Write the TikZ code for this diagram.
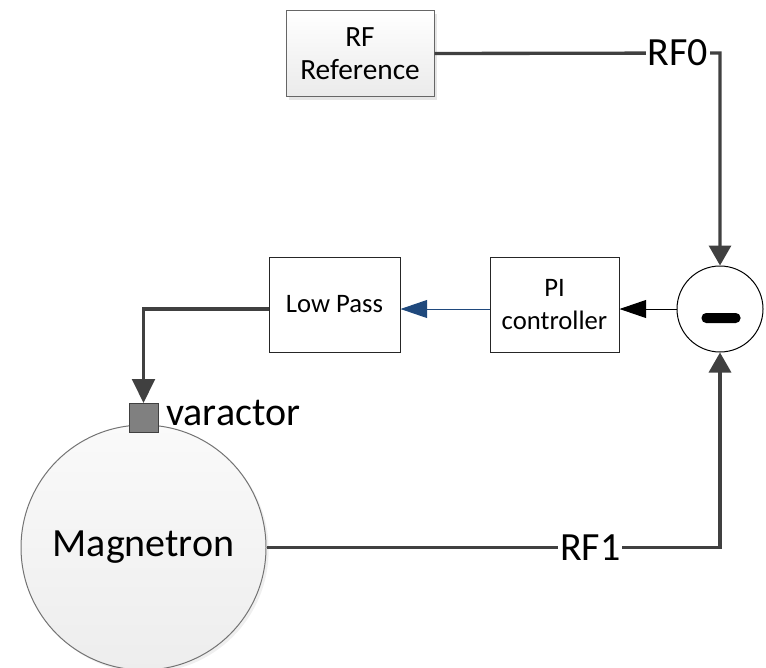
\documentclass[tikz,border=0pt]{standalone}
\usepackage{fontspec}
\setmainfont{Carlito}
\usetikzlibrary{arrows.meta,shadows}

\definecolor{wiregray}{RGB}{64,64,64}
\definecolor{linkblue}{RGB}{31,73,125}

\tikzset{
  block/.style={draw=black!85, line width=0.75pt, fill=white, align=center,
    inner sep=0pt, font=\fontsize{20}{24.75}\selectfont},
  wire/.style={line width=2.5pt, draw=wiregray},
  wirelabel/.style={fill=white, text=black, inner sep=1.5pt, font=\fontsize{30}{36}\selectfont},
  downtip/.style={-{Triangle[length=15pt,width=16.5pt]}, color=wiregray},
}

\begin{document}
\begin{tikzpicture}[x=0.75pt,y=-0.75pt]
    \useasboundingbox (0,0) rectangle (766,667);

    % Blocks
    \node[block, minimum width=111pt, minimum height=64pt,
          draw=black!60, top color=white, bottom color=black!8,
          drop shadow={shadow xshift=2.5pt, shadow yshift=-2.5pt, fill=black!20},
          font=\fontsize{22}{24.75}\selectfont] (ref) at (360,53.5) {RF\\Reference};
    \node[block, minimum width=96.75pt, minimum height=71.25pt] (pi) at (554.5,304.5) {PI\\controller};
    \node[block, minimum width=98.25pt, minimum height=71.25pt] (lp) at (334.5,304.5) {Low Pass};

    % Summing junction
    \node[circle, draw=black, line width=0.75pt, fill=white, minimum size=64.5pt] (sum) at (720,309) {};
    \fill[black, rounded corners=3.5pt] (701.5,313) rectangle (740.5,323);

    % Magnetron and varactor
    \node[circle, draw=black!55, line width=0.75pt, minimum size=183.75pt,
          top color=black!2, bottom color=black!7,
          drop shadow={shadow xshift=2pt, shadow yshift=-2pt, fill=black!12},
          font=\fontsize{30}{36}\selectfont] (mag) at (143.5,547.5) {Magnetron};
    \node[rectangle, draw=black!75, fill=black!50, line width=0.75pt,
          minimum size=21.75pt, inner sep=0pt] (var) at (143.5,418) {};
    \node[anchor=base west, inner sep=0pt, font=\fontsize{30}{36}\selectfont] (varlabel) at (166,425) {varactor};

    % RF signals into the junction
    \coordinate (rf0corner) at (720,53);
    \draw[wire, downtip] (ref.east) -- node[wirelabel, pos=0.853] (rf0) {RF0} (rf0corner) -- (sum.north);
    \draw[wire, downtip] (mag.east) -- node[wirelabel, pos=0.714] (rf1) {RF1} (mag.east -| sum.south) -- (sum.south);

    % Control loop
    \draw[line width=0.75pt, -{Triangle[length=20pt,width=13.5pt]}] (sum.west) -- (sum.west -| pi.east);
    \draw[line width=0.75pt, linkblue, -{Triangle[length=20pt,width=13.5pt]}] (sum.west -| pi.west) -- (sum.west -| lp.east);
    \draw[wire, -{Triangle[length=18pt,width=17pt]}, color=wiregray] (sum.west -| lp.west) -| (var.north);
\end{tikzpicture}
\end{document}
